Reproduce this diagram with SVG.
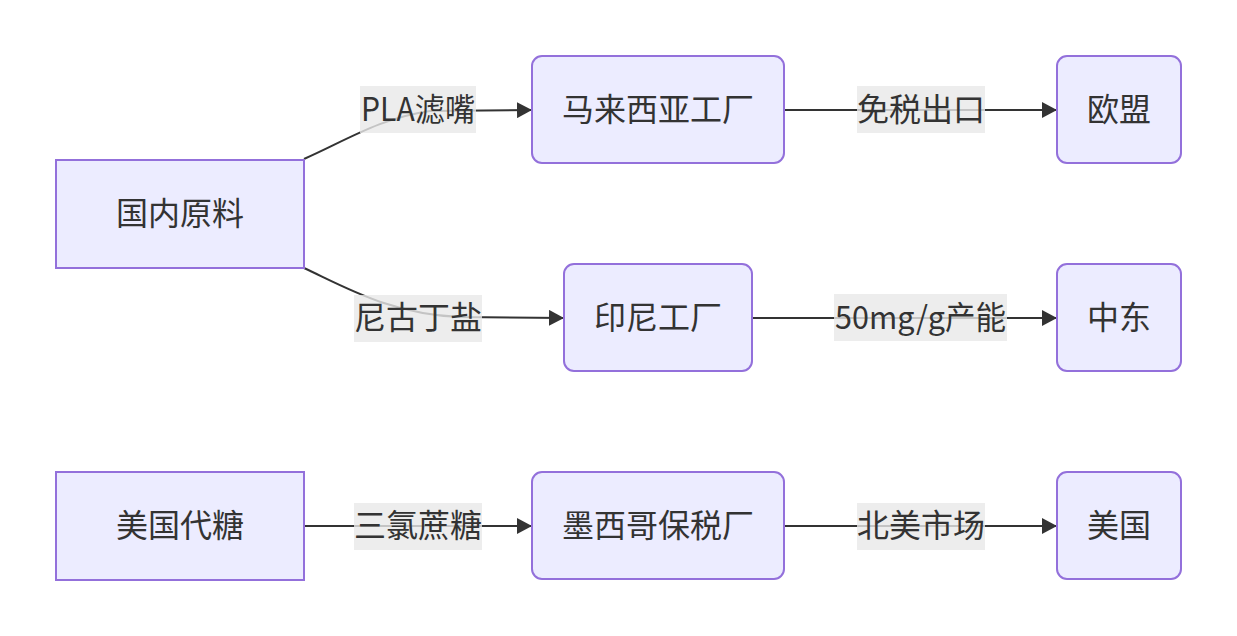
<svg xmlns="http://www.w3.org/2000/svg" width="1237" height="636" viewBox="0 0 1237 636">
<defs>
<style>
.node rect{fill:#ECECFF;stroke:#9370DB;stroke-width:2}
.t{font-family:"Noto Sans CJK SC","Noto Sans",sans-serif;font-size:32px;fill:#333;text-anchor:middle;dominant-baseline:central}
.edge{fill:none;stroke:#333;stroke-width:2}
.lbg{fill:rgba(232,232,232,0.8)}
</style>
<marker id="arr" viewBox="0 0 10 10" refX="10" refY="5" markerUnits="userSpaceOnUse" markerWidth="15" markerHeight="16" orient="auto" preserveAspectRatio="none">
<path d="M0,0 L10,5 L0,10 z" fill="#333"/>
</marker>
</defs>
<rect width="1237" height="636" fill="#fff"/>
<g id="connectors">
<path class="edge" d="M304,159 C345,141 380,118 430,111 L532,110" marker-end="url(#arr)"/>
<path class="edge" d="M304,268 C345,287 390,314 460,317 L564,318" marker-end="url(#arr)"/>
<path class="edge" d="M304,526 L532,526" marker-end="url(#arr)"/>
<path class="edge" d="M784,110 L1057,110" marker-end="url(#arr)"/>
<path class="edge" d="M752,318 L1057,318" marker-end="url(#arr)"/>
<path class="edge" d="M784,526 L1057,526" marker-end="url(#arr)"/>
<g id="edge-labels">
<rect class="lbg" x="360" y="86" width="116" height="47"/><text class="t" x="418" y="107" textLength="114" lengthAdjust="spacingAndGlyphs">PLA滤嘴</text>
<rect class="lbg" x="354" y="295" width="128" height="47"/><text class="t" x="418" y="315">尼古丁盐</text>
<rect class="lbg" x="354" y="503" width="128" height="47"/><text class="t" x="418" y="523">三氯蔗糖</text>
<rect class="lbg" x="857" y="86" width="128" height="47"/><text class="t" x="921" y="107">免税出口</text>
<rect class="lbg" x="834" y="294" width="173" height="47"/><text class="t" x="920.5" y="315" textLength="171" lengthAdjust="spacingAndGlyphs">50mg/g产能</text>
<rect class="lbg" x="857" y="503" width="128" height="47"/><text class="t" x="921" y="523">北美市场</text>
</g>
</g>
<g id="n-domestic" class="node"><rect x="56" y="160" width="248" height="108"/><text class="t" x="180" y="211">国内原料</text></g>
<g id="n-ussweet" class="node"><rect x="56" y="472" width="248" height="108"/><text class="t" x="180" y="523">美国代糖</text></g>
<g id="n-malaysia" class="node"><rect x="532" y="56" width="252" height="107" rx="10"/><text class="t" x="658" y="107">马来西亚工厂</text></g>
<g id="n-indonesia" class="node"><rect x="564" y="264" width="188" height="107" rx="10"/><text class="t" x="658" y="315">印尼工厂</text></g>
<g id="n-mexico" class="node"><rect x="532" y="472" width="252" height="107" rx="10"/><text class="t" x="658" y="523">墨西哥保税厂</text></g>
<g id="n-eu" class="node"><rect x="1057" y="56" width="124" height="107" rx="10"/><text class="t" x="1119" y="107">欧盟</text></g>
<g id="n-me" class="node"><rect x="1057" y="264" width="124" height="107" rx="10"/><text class="t" x="1119" y="315">中东</text></g>
<g id="n-us" class="node"><rect x="1057" y="472" width="124" height="107" rx="10"/><text class="t" x="1119" y="523">美国</text></g>
</svg>
